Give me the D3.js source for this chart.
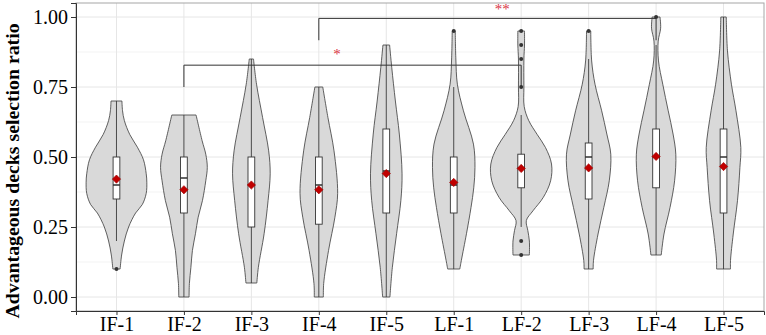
<!DOCTYPE html>
<html>
<head>
<meta charset="utf-8">
<script src="https://cdn.jsdelivr.net/npm/d3@7"></script>
<style>
  body { margin: 0; background: #fff; }
  svg { display: block; }
  svg text { font-family: "Liberation Serif", "Times New Roman", serif; }
</style>
</head>
<body>
<svg id="chart" width="766" height="335"></svg>
<script>
// Groups and summary values
const groups = ["IF-1", "IF-2", "IF-3", "IF-4", "IF-5", "LF-1", "LF-2", "LF-3", "LF-4", "LF-5"];

const q1 = [0.35, 0.30, 0.25, 0.26, 0.30, 0.30, 0.39, 0.35, 0.39, 0.30];
const medians = [0.40, 0.425, 0.40, 0.40, 0.45, 0.40, 0.46, 0.50, 0.50, 0.50];
const q3 = [0.50, 0.50, 0.50, 0.50, 0.60, 0.50, 0.51, 0.55, 0.60, 0.60];
const whiskerLow = [0.20, 0.00, 0.05, 0.00, 0.00, 0.10, 0.25, 0.10, 0.15, 0.10];
const whiskerHigh = [0.70, 0.65, 0.85, 0.75, 0.90, 0.75, 0.65, 0.85, 0.90, 1.00];
const means = [0.421, 0.383, 0.400, 0.383, 0.441, 0.409, 0.459, 0.461, 0.502, 0.466];
const outliers = [[0.10], [], [], [], [], [0.95], [0.95, 0.90, 0.85, 0.75, 0.20, 0.15], [0.95], [1.00], []];

// Kernel density profile of each group: [value, relative density]
const densities = [
  [[0.70, 0.18], [0.665, 0.2], [0.63, 0.26], [0.58, 0.44], [0.535, 0.69], [0.49, 0.89], [0.44, 0.98], [0.41, 1.0], [0.37, 0.98], [0.33, 0.85], [0.30, 0.63], [0.25, 0.4], [0.20, 0.26], [0.15, 0.17], [0.10, 0.12]],
  [[0.65, 0.40], [0.558, 0.6], [0.51, 0.72], [0.463, 0.77], [0.415, 0.72], [0.344, 0.61], [0.285, 0.47], [0.226, 0.38], [0.166, 0.28], [0.106, 0.23], [0.048, 0.18], [0.0, 0.17]],
  [[0.85, 0.07], [0.76, 0.17], [0.641, 0.37], [0.522, 0.57], [0.44, 0.62], [0.344, 0.55], [0.226, 0.42], [0.106, 0.23], [0.05, 0.18]],
  [[0.75, 0.13], [0.641, 0.3], [0.522, 0.5], [0.37, 0.62], [0.285, 0.53], [0.166, 0.32], [0.048, 0.16], [0.0, 0.15]],
  [[0.90, 0.11], [0.82, 0.18], [0.70, 0.3], [0.582, 0.43], [0.44, 0.52], [0.344, 0.48], [0.226, 0.34], [0.106, 0.2], [0.0, 0.12]],
  [[0.95, 0.05], [0.85, 0.07], [0.76, 0.12], [0.665, 0.32], [0.546, 0.65], [0.463, 0.7], [0.39, 0.66], [0.32, 0.57], [0.226, 0.42], [0.13, 0.25], [0.10, 0.2]],
  [[0.95, 0.11], [0.90, 0.11], [0.85, 0.09], [0.75, 0.09], [0.68, 0.1], [0.63, 0.25], [0.58, 0.53], [0.534, 0.8], [0.475, 1.0], [0.415, 0.97], [0.356, 0.73], [0.308, 0.39], [0.273, 0.17], [0.237, 0.22], [0.20, 0.27], [0.15, 0.27]],
  [[0.95, 0.07], [0.843, 0.1], [0.76, 0.21], [0.665, 0.43], [0.582, 0.6], [0.51, 0.73], [0.415, 0.68], [0.32, 0.5], [0.225, 0.31], [0.13, 0.16], [0.10, 0.15]],
  [[1.00, 0.13], [0.96, 0.15], [0.914, 0.07], [0.843, 0.08], [0.76, 0.22], [0.665, 0.4], [0.582, 0.56], [0.51, 0.65], [0.415, 0.61], [0.32, 0.46], [0.225, 0.26], [0.15, 0.17]],
  [[1.00, 0.09], [0.879, 0.13], [0.76, 0.26], [0.665, 0.41], [0.534, 0.57], [0.463, 0.54], [0.344, 0.46], [0.225, 0.32], [0.13, 0.23], [0.10, 0.23]]
];

// Significance brackets and their labels
const brackets = [
  { from: "IF-2", to: "LF-2", top: 0.828, leg: 0.75 },
  { from: "IF-4", to: "LF-4", top: 0.995, leg: 0.917 }
];
const sigLabels = [
  { text: "*", at: 3.27, value: 0.85 },
  { text: "**", at: 5.72, value: 1.012 }
];

const yTicks = [0, 0.25, 0.5, 0.75, 1];
const yMinor = [0.125, 0.375, 0.625, 0.875];

const svg = d3.select("#chart");
const panelLeft = 76, panelRight = 764, panelTop = 3, panelBottom = 311;

const x = d3.scalePoint().domain(groups).range([panelLeft, panelRight]).padding(0.6);
const y = d3.scaleLinear().domain([-0.05, 1.05]).range([panelBottom, panelTop]);
const step = x.step();
const halfWidth = d3.scaleLinear().domain([0, 1]).range([0, step * 0.45]);

// Panel background and grid
svg.append("rect").attr("x", panelLeft).attr("y", panelTop)
  .attr("width", panelRight - panelLeft).attr("height", panelBottom - panelTop).attr("fill", "#fff");

svg.append("g").selectAll("line").data(yMinor).join("line")
  .attr("x1", panelLeft).attr("x2", panelRight)
  .attr("y1", d => y(d)).attr("y2", d => y(d))
  .attr("stroke", "#f0f0f0").attr("stroke-width", 0.8);

svg.append("g").selectAll("line").data(yTicks).join("line")
  .attr("x1", panelLeft).attr("x2", panelRight)
  .attr("y1", d => y(d)).attr("y2", d => y(d))
  .attr("stroke", "#e6e6e6").attr("stroke-width", 1);

svg.append("g").selectAll("line").data(groups).join("line")
  .attr("x1", d => x(d)).attr("x2", d => x(d))
  .attr("y1", panelTop).attr("y2", panelBottom)
  .attr("stroke", "#e6e6e6").attr("stroke-width", 1);

// Violins
const violin = svg.append("g").selectAll("g").data(groups).join("g");

violin.append("path")
  .attr("d", (g, i) => d3.area()
    .y(d => y(d[0]))
    .x0(d => x(g) - halfWidth(d[1]))
    .x1(d => x(g) + halfWidth(d[1]))
    .curve(d3.curveCatmullRom.alpha(0.5))(densities[i]))
  .attr("fill", "#d9d9d9")
  .attr("stroke", "#3a3a3a")
  .attr("stroke-width", 0.8);

// Boxplots
const boxW = step * 0.1;

violin.append("line")
  .attr("x1", g => x(g)).attr("x2", g => x(g))
  .attr("y1", (g, i) => y(whiskerHigh[i])).attr("y2", (g, i) => y(whiskerLow[i]))
  .attr("stroke", "#3a3a3a").attr("stroke-width", 0.9);

violin.append("rect")
  .attr("x", g => x(g) - boxW / 2)
  .attr("width", boxW)
  .attr("y", (g, i) => y(q3[i]))
  .attr("height", (g, i) => y(q1[i]) - y(q3[i]))
  .attr("fill", "#fff")
  .attr("stroke", "#333")
  .attr("stroke-width", 0.9);

violin.append("line")
  .attr("x1", g => x(g) - boxW / 2).attr("x2", g => x(g) + boxW / 2)
  .attr("y1", (g, i) => y(medians[i])).attr("y2", (g, i) => y(medians[i]))
  .attr("stroke", "#222").attr("stroke-width", 1.4);

violin.each(function (g, i) {
  d3.select(this).selectAll("circle").data(outliers[i]).join("circle")
    .attr("cx", x(g)).attr("cy", d => y(d)).attr("r", 2)
    .attr("fill", "#333");
});

// Mean as a rotated square (ggplot shape 18)
violin.append("path")
  .attr("transform", (g, i) => `translate(${x(g)},${y(means[i])}) rotate(45)`)
  .attr("d", d3.symbol().type(d3.symbolSquare).size(34))
  .attr("fill", "#c00000")
  .attr("stroke", "#a00000")
  .attr("stroke-width", 0.6);

// Significance brackets
svg.append("g").selectAll("path").data(brackets).join("path")
  .attr("d", b => `M${x(b.from)},${y(b.leg)}V${y(b.top)}H${x(b.to)}V${y(b.leg)}`)
  .attr("fill", "none")
  .attr("stroke", "#333")
  .attr("stroke-width", 1);

svg.append("g").selectAll("text").data(sigLabels).join("text")
  .attr("x", d => x(groups[0]) + d.at * step)
  .attr("y", d => y(d.value))
  .attr("text-anchor", "middle")
  .style("font-size", "15px")
  .attr("fill", "#d9333f")
  .text(d => d.text);

// Panel border
svg.append("rect").attr("x", panelLeft).attr("y", panelTop)
  .attr("width", panelRight - panelLeft).attr("height", panelBottom - panelTop)
  .attr("fill", "none").attr("stroke", "#a6a6a6").attr("stroke-width", 1);

// Axes
const yAxis = svg.append("g")
  .attr("transform", `translate(${panelLeft},0)`)
  .call(d3.axisLeft(y).tickValues(yTicks).tickFormat(d3.format(".2f")).tickSize(5).tickPadding(3));

const xAxis = svg.append("g")
  .attr("transform", `translate(0,${panelBottom})`)
  .call(d3.axisBottom(x).tickSize(4).tickPadding(3));

[yAxis, xAxis].forEach(a => {
  a.attr("font-family", null).attr("font-size", null);
  a.select(".domain").attr("stroke", "#333");
  a.selectAll(".tick line").attr("stroke", "#333");
  a.selectAll(".tick text")
    .style("font-size", "20px")
    .attr("fill", "#000");
});
xAxis.selectAll(".tick text").attr("dy", "0.66em");

svg.append("text")
  .attr("transform", "translate(19,171) rotate(-90)")
  .attr("text-anchor", "middle")
  .style("font-weight", "bold")
  .style("font-size", "19.8px")
  .attr("fill", "#000")
  .text("Advantageous decks selection ratio");
</script>
</body>
</html>
